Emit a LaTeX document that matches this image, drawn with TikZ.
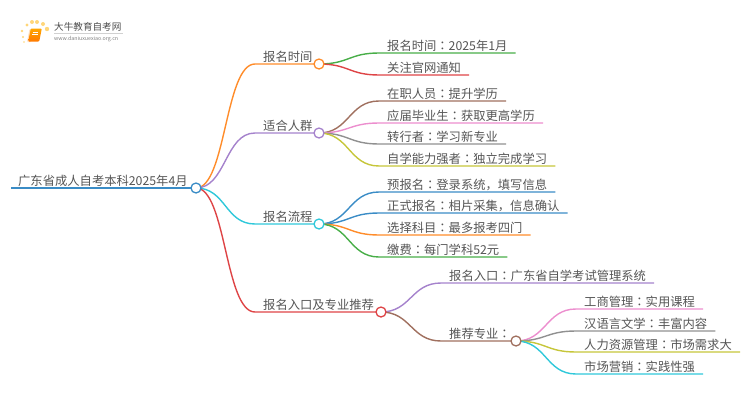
\documentclass[tikz,border=0pt]{standalone}
\usepackage{fontspec}
\usetikzlibrary{backgrounds}
\setmainfont{Noto Sans CJK SC}
\newfontfamily\jpfont{Noto Sans CJK JP}
\newcommand{\cl}{{\jpfont ：}}
\definecolor{cblue}{HTML}{3A8CC6}
\definecolor{corange}{HTML}{FF8C2A}
\definecolor{cgreen}{HTML}{48AE48}
\definecolor{cred}{HTML}{DE4446}
\definecolor{cpurple}{HTML}{A582CC}
\definecolor{cbrown}{HTML}{A0705F}
\definecolor{cpink}{HTML}{EC8ECE}
\definecolor{cgray}{HTML}{909090}
\definecolor{colive}{HTML}{C6C63A}
\definecolor{ccyan}{HTML}{30C8DA}
\definecolor{ctext}{HTML}{555555}
\definecolor{cdot}{HTML}{FFD67A}
\tikzset{
  lab/.style={anchor=south west,inner xsep=8pt,inner ysep=1pt,text depth=1pt,text=ctext,font=\fontsize{12.3}{14}\selectfont},
  hub/.style={circle,draw=#1,fill=white,line width=1.3pt,inner sep=0pt,minimum size=10pt},
  lnk/.style={line width=1.4pt},
}
\begin{document}
\begin{tikzpicture}[x=1pt,y=-1pt]
    \useasboundingbox (0,0) rectangle (750,410);

    % logo
    \foreach \x/\y/\r in {22/31/1.4,27/25/1.7,32/22/2,37/22/2,43/24/2,47/29/2.2,23/37/1.1,24/42/.9} {
      \fill [cdot] (\x,\y) circle (\r);
    }
    \fill [orange!25!white,rounded corners=1pt] (27,42) -- (29.5,29) -- (33,29) -- (31,42) -- cycle;
    \path (35,35) node [top color=orange!70!yellow,bottom color=orange!95!red,rounded corners=1pt,minimum width=11pt,minimum height=13pt,inner sep=0pt,xslant=.2,transform shape] (book) {};
    \draw [white,line width=.7pt] (32.5,32) -- (38,32) (32,34.5) -- (37.5,34.5);
    \path (54,27) node [anchor=west,inner sep=0pt,text=black!70,font=\fontsize{9.6}{11}\selectfont] (logot) {大牛教育自考网};
    \draw [black!18,line width=.5pt] (54,33) -- (123,33);
    \path (54,38.7) node [anchor=west,inner sep=0pt,text=black!50,font=\fontsize{5.3}{6}\selectfont] (logou) {www.daniuxuexiao.org.cn};

    % hubs
    \path (196,188) node [hub=cblue] (h0) {};
    \path (319,64) node [hub=corange] (h1) {};
    \path (319,133) node [hub=cpurple] (h2) {};
    \path (319,224) node [hub=ccyan] (h3) {};
    \path (381,312) node [hub=cred] (h4) {};
    \path (516,341) node [hub=cbrown] (h5) {};

    % texts
    \path (11,188) node [lab,inner xsep=7pt] (n0) {广东省成人自考本科2025年4月};
    \path (255,64) node [lab] (n1) {报名时间};
    \path (255,133) node [lab] (n2) {适合人群};
    \path (255,224) node [lab] (n3) {报名流程};
    \path (255,312) node [lab] (n4) {报名入口及专业推荐};

    \path (379,53) node [lab] (a1) {报名时间\cl 2025年1月};
    \path (379,75) node [lab] (a2) {关注官网通知};
    \path (379,101) node [lab] (b1) {在职人员\cl 提升学历};
    \path (379,123) node [lab] (b2) {应届毕业生\cl 获取更高学历};
    \path (379,144) node [lab] (b3) {转行者\cl 学习新专业};
    \path (379,166) node [lab] (b4) {自学能力强者\cl 独立完成学习};
    \path (379,192) node [lab] (c1) {预报名\cl 登录系统，填写信息};
    \path (379,213) node [lab] (c2) {正式报名\cl 相片采集，信息确认};
    \path (379,235) node [lab] (c3) {选择科目\cl 最多报考四门};
    \path (379,257) node [lab] (c4) {缴费\cl 每门学科52元};
    \path (441,283) node [lab] (d1) {报名入口\cl 广东省自学考试管理系统};
    \path (441,341) node [lab] (d2) {推荐专业\cl};
    \path (576,309) node [lab] (e1) {工商管理\cl 实用课程};
    \path (576,331) node [lab] (e2) {汉语言文学\cl 丰富内容};
    \path (576,352) node [lab] (e3) {人力资源管理\cl 市场需求大};
    \path (576,374) node [lab] (e4) {市场营销\cl 实践性强};

    \begin{scope}[on background layer]
    % root
    \draw [lnk,cblue] (n0.south west) -- (h0.center);

    % first level
    \draw [lnk,corange] (h0.center) .. controls +(30,0) and +(-30,0) .. (n1.south west) -- (h1.center);
    \draw [lnk,cpurple] (h0.center) .. controls +(30,0) and +(-30,0) .. (n2.south west) -- (h2.center);
    \draw [lnk,ccyan] (h0.center) .. controls +(30,0) and +(-30,0) .. (n3.south west) -- (h3.center);
    \draw [lnk,cred] (h0.center) .. controls +(30,0) and +(-30,0) .. (n4.south west) -- (h4.center);

    % second level
    \draw [lnk,cgreen] (h1.center) .. controls +(30,0) and +(-30,0) .. (a1.south west) -- (a1.south east);
    \draw [lnk,cred] (h1.center) .. controls +(30,0) and +(-30,0) .. (a2.south west) -- (a2.south east);
    \draw [lnk,cbrown] (h2.center) .. controls +(30,0) and +(-30,0) .. (b1.south west) -- (b1.south east);
    \draw [lnk,cpink] (h2.center) .. controls +(30,0) and +(-30,0) .. (b2.south west) -- (b2.south east);
    \draw [lnk,cgray] (h2.center) .. controls +(30,0) and +(-30,0) .. (b3.south west) -- (b3.south east);
    \draw [lnk,colive] (h2.center) .. controls +(30,0) and +(-30,0) .. (b4.south west) -- (b4.south east);
    \draw [lnk,cblue] (h3.center) .. controls +(30,0) and +(-30,0) .. (c1.south west) -- (c1.south east);
    \draw [lnk,cblue] (h3.center) .. controls +(30,0) and +(-30,0) .. (c2.south west) -- (c2.south east);
    \draw [lnk,corange] (h3.center) .. controls +(30,0) and +(-30,0) .. (c3.south west) -- (c3.south east);
    \draw [lnk,cgreen] (h3.center) .. controls +(30,0) and +(-30,0) .. (c4.south west) -- (c4.south east);
    \draw [lnk,cpurple] (h4.center) .. controls +(30,0) and +(-30,0) .. (d1.south west) -- (d1.south east);
    \draw [lnk,cbrown] (h4.center) .. controls +(30,0) and +(-30,0) .. (d2.south west) -- (h5.center);
    \draw [lnk,cpink] (h5.center) .. controls +(30,0) and +(-30,0) .. (e1.south west) -- (e1.south east);
    \draw [lnk,cgray] (h5.center) .. controls +(30,0) and +(-30,0) .. (e2.south west) -- (e2.south east);
    \draw [lnk,colive] (h5.center) .. controls +(30,0) and +(-30,0) .. (e3.south west) -- (e3.south east);
    \draw [lnk,ccyan] (h5.center) .. controls +(30,0) and +(-30,0) .. (e4.south west) -- (e4.south east);
    \end{scope}
\end{tikzpicture}
\end{document}
